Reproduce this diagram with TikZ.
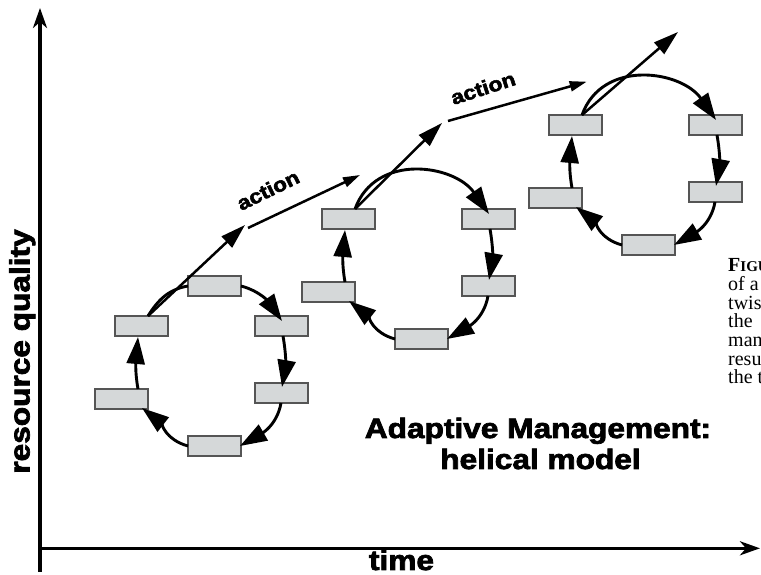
\documentclass[tikz,border=0pt]{standalone}
\usepackage{fontspec}
\usepackage{graphicx}
\setmainfont{Liberation Serif}
\newfontfamily\labelfont{Liberation Sans}[BoldFeatures={FakeBold=2.5}]
\usetikzlibrary{arrows.meta,calc}

\definecolor{boxfill}{RGB}{213,216,217}
\definecolor{boxedge}{RGB}{85,85,85}

% heavy, slightly widened sans-serif lettering
\newcommand{\heavy}[2]{{\labelfont\bfseries\fontsize{#1}{#1}\selectfont\scalebox{1.13}[1]{#2}}}

\tikzset{
  stage/.style={draw=boxedge, fill=boxfill, line width=1.1pt, minimum width=53pt,
    minimum height=20pt, inner sep=0pt, outer sep=0pt},
  cyclearrow/.style={line width=2.9pt, -{Triangle[length=27pt,width=18pt]}},
  cycleplain/.style={line width=2.9pt},
  branch/.style={line width=2.5pt, -{Triangle[length=25pt,width=15pt]}},
  actarrow/.style={line width=2.5pt, -{Triangle[length=17pt,width=10pt]}},
  axisline/.style={line width=3.2pt, -{Stealth[length=20pt,width=14pt,inset=6pt]}},
  captionline/.style={anchor=base west, inner sep=0pt, font=\fontsize{20}{20}\selectfont},
}

% the five boxes shared by every turn of the helix
\newcommand{\ringnodes}[3]{%
  \begin{scope}[shift={(#2,#3)}]
    \node[stage] (#1UL) at (141.5,249) {};
    \node[stage] (#1UR) at (281.5,249) {};
    \node[stage] (#1LL) at (121.5,176) {};
    \node[stage] (#1LR) at (281.5,182) {};
    \node[stage] (#1B)  at (214.5,129) {};
  \end{scope}}

% clockwise arrows from the upper-right box round to the upper-left box
\newcommand{\ringarcs}[1]{%
  \draw[cyclearrow] ($(#1UR.south)+(1.5,0)$) to[out=-80,in=80] ($(#1LR.north)+(0.5,-4)$);
  \draw[cyclearrow] ($(#1LR.south)+(-0.5,0)$) to[out=-100,in=30] ($(#1B.east)+(-1,0)$);
  \draw[cyclearrow] (#1B.west) to[out=165,in=-38] ($(#1LL.south east)+(-6,1)$);
  \draw[cyclearrow] ($(#1LL.north east)+(-10,0)$) to[out=100,in=-95] ($(#1UL.south)+(-3.5,-1)$);}

\begin{document}
\begin{tikzpicture}[x=1pt,y=1pt]
\useasboundingbox (0,0) rectangle (761,575);
\clip (0,0) rectangle (761,575);

% axes
\coordinate (ybot) at (40,3);
\coordinate (ytop) at (40,567);
\coordinate (origin) at (38.4,26.7);
\coordinate (xend) at (760,26.7);
\draw[axisline] (ybot) -- (ytop);
\draw[axisline] (origin) -- (xend);

\node[rotate=90, anchor=base] (ylab) at (29.5,223.5) {\heavy{28}{resource quality}};
\node[anchor=base] (xlab) at (401.5,5) {\heavy{28}{time}};

% first turn (with the extra top box)
\node[stage] (aT) at (214.5,289) {};
\ringnodes{a}{0}{0}
% second and third turns
\ringnodes{b}{207}{107}
\ringnodes{c}{434}{201}

\draw[cycleplain] ($(aUL.north)+(6.5,0)$) to[out=58,in=190] (aT.west);
\draw[cyclearrow] (aT.east) to[out=-15,in=125] ($(aUR.north)+(0.5,-5)$);
\ringarcs{a}

\draw[cyclearrow] ($(bUL.north)+(6.5,0)$) to[out=70,in=125,looseness=1.15] ($(bUR.north)+(0.5,-5)$);
\ringarcs{b}

\draw[cyclearrow] ($(cUL.north)+(6.5,0)$) to[out=70,in=125,looseness=1.15] ($(cUR.north)+(0.5,-5)$);
\ringarcs{c}

% tangents leaving each turn
\coordinate (tipa) at (245,350);
\coordinate (tipb) at (442,452);
\coordinate (tipc) at (678,543);
\draw[branch] ($(aUL.north)+(6.5,0)$) -- (tipa);
\draw[branch] ($(bUL.north)+(6.5,0)$) -- (tipb);
\draw[branch] ($(cUL.north)+(6.5,0)$) -- (tipc);

% action steps between turns
\coordinate (acts1) at (248,347);
\coordinate (acte1) at (360,400);
\coordinate (acts2) at (448,454);
\coordinate (acte2) at (586.7,493.3);
\draw[actarrow] (acts1) -- (acte1);
\draw[actarrow] (acts2) -- (acte2);
\node[rotate=26] (actlab1) at (268,385) {\heavy{20}{action}};
\node[rotate=18] (actlab2) at (483,487) {\heavy{20}{action}};

% title
\node[anchor=base] (title1) at (538,137) {\heavy{28}{Adaptive Management:}};
\node[anchor=base] (title2) at (540.5,106) {\heavy{28}{helical model}};

% caption column at the right edge
\node[captionline] (cap1) at (728,303) {\textbf{F{\fontsize{15}{15}\selectfont IGU}}};
\node[captionline] (cap2) at (728,284.3) {of a};
\node[captionline] (cap3) at (728,265.6) {twis};
\node[captionline] (cap4) at (728,247) {the};
\node[captionline] (cap5) at (728,228.3) {man};
\node[captionline] (cap6) at (728,209.6) {resu};
\node[captionline] (cap7) at (728,191) {the t};
\end{tikzpicture}
\end{document}
